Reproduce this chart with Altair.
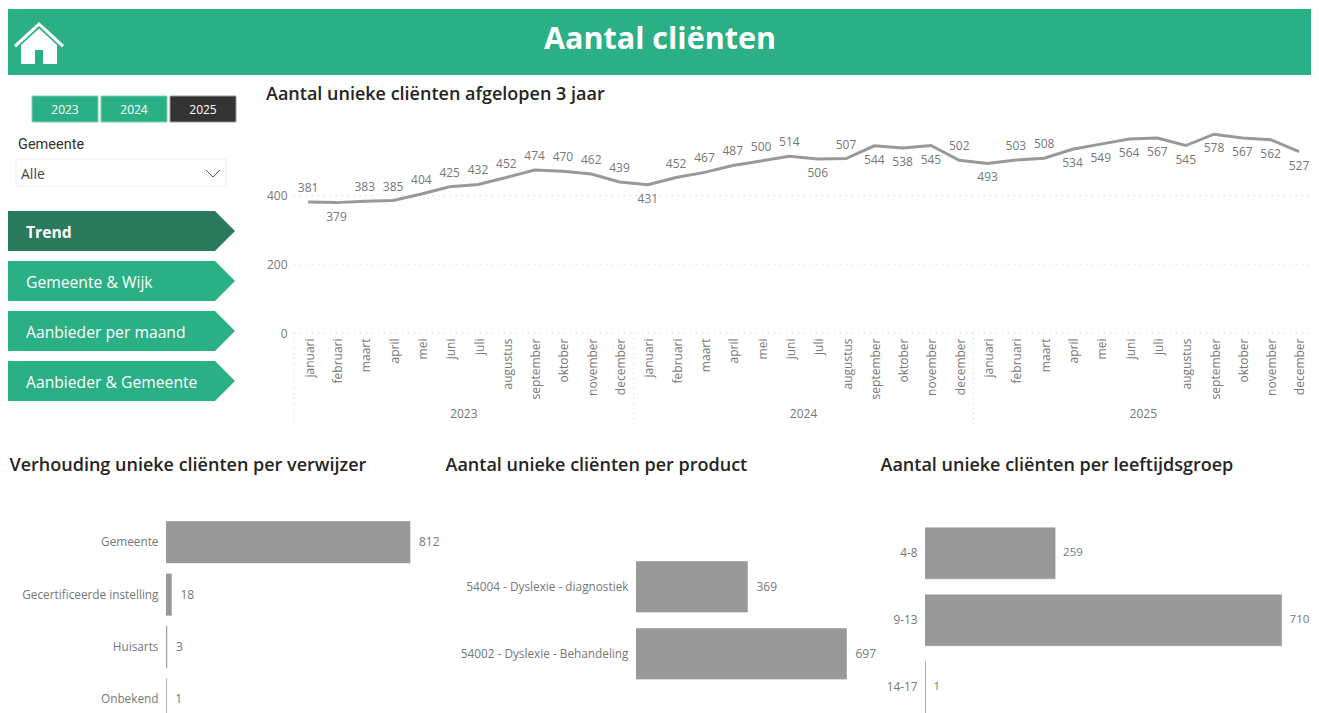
import altair as alt
import pandas as pd

FONT = "Open Sans"
GREEN = "#2bb085"
DARK_GREEN = "#2a7a5e"
GREY = "#999999"
LABEL = "#777777"

maanden = ["januari", "februari", "maart", "april", "mei", "juni", "juli", "augustus",
           "september", "oktober", "november", "december"]
jaren = ["2023", "2024", "2025"]
clienten = [381, 379, 383, 385, 404, 425, 432, 452, 474, 470, 462, 439,
            431, 452, 467, 487, 500, 514, 506, 507, 544, 538, 545, 502,
            493, 503, 508, 534, 549, 564, 567, 545, 578, 567, 562, 527]
label_plek = ["a", "b", "a", "a", "a", "a", "a", "a", "a", "a", "a", "a",
              "b", "a", "a", "a", "a", "a", "b", "a", "b", "b", "b", "a",
              "b", "a", "a", "b", "b", "b", "b", "b", "b", "b", "b", "b"]

verwijzers = ["Gemeente", "Gecertificeerde instelling", "Huisarts", "Onbekend"]
verwijzer_waarden = [812, 18, 3, 1]
producten = ["54004 - Dyslexie - diagnostiek", "54002 - Dyslexie - Behandeling"]
product_waarden = [369, 697]
leeftijden = ["4-8", "9-13", "14-17"]
leeftijd_waarden = [259, 710, 1]

nav_labels = ["Trend", "Gemeente & Wijk", "Aanbieder per maand", "Aanbieder & Gemeente"]

one = alt.Data(values=[{"a": 1}])


def label(text, x, y, size=12, color=LABEL, weight="normal", align="left", font=FONT):
    return alt.Chart(one).mark_text(text=text, fontSize=size, color=color, fontWeight=weight,
                                    align=align, baseline="middle", font=font).encode(
        x=alt.value(x), y=alt.value(y))


def box(x, x2, y, y2, fill, stroke=None):
    kw = {"stroke": stroke, "strokeWidth": 1} if stroke else {}
    return alt.Chart(one).mark_rect(color=fill, **kw).encode(
        x=alt.value(x), x2=alt.value(x2), y=alt.value(y), y2=alt.value(y2))


def shape(path, fill):
    return alt.Chart(one).mark_point(shape=path, size=4, filled=True, color=fill, opacity=1).encode(
        x=alt.value(0), y=alt.value(0))


# ---- header
header = alt.layer(
    box(0, 1303, 1, 67, GREEN),
    shape("M13,56 L13,37 L31,20.5 L49,37 L49,56 L35,56 L35,42 L27,42 L27,56 Z", "#ffffff"),
    shape("M6,37 L31,14 L56,37 L54,39.5 L31,18 L8,39.5 Z", "#ffffff"),
    label("Aantal cliënten", 652, 32, size=30.5, color="#ffffff", weight="bold", align="center"),
).properties(width=1302, height=68)

# ---- sidebar
side_layers = []
for jaar, x0, fill, edge in zip(jaren, [24, 93, 162], [GREEN, GREEN, "#333333"],
                                ["#7fd0b5", "#7fd0b5", "#999999"]):
    side_layers.append(box(x0, x0 + 66, 20, 46, fill, edge))
    side_layers.append(label(jaar, x0 + 33, 34, size=12, color="#ffffff", align="center"))
side_layers.append(label("Gemeente", 10, 69, size=14.5, color="#333333", font="Roboto"))
side_layers.append(box(8, 218, 83, 110, "#ffffff", "#eeeeee"))
side_layers.append(label("Alle", 13, 98.5, size=14, color="#444444"))
side_layers.append(alt.Chart(one).mark_point(shape="M198,94 L205,101 L212,94", size=4, filled=False,
                                             color="#555555", opacity=1, strokeWidth=1).encode(
    x=alt.value(0), y=alt.value(0)))
for i, nav in enumerate(nav_labels):
    top = 135 + i * 50
    side_layers.append(shape(f"M0,{top} L207,{top} L227,{top + 20} L207,{top + 40} L0,{top + 40} Z",
                             DARK_GREEN if i == 0 else GREEN))
    side_layers.append(label(nav, 18, top + 22, size=15.7, color="#ffffff",
                             weight="bold" if i == 0 else "normal"))
sidebar = alt.layer(*side_layers).properties(width=286, height=359)

# ---- trend line
n_maanden = len(jaren) * len(maanden)
idx = list(range(n_maanden))
trend = pd.DataFrame({"idx": idx, "waarde": clienten, "plek": label_plek})
x_scale = alt.Scale(domain=[-0.5, 35.39], nice=False, zero=False)
y_scale = alt.Scale(domain=[0, 600], range=[257, 50.6])

maand_expr = "[" + ",".join(f"'{m}'" for m in maanden) + "][datum.value % 12]"
x_axis = alt.Axis(title=None, values=idx, labelExpr=maand_expr, labelAngle=270, labelAlign="right",
                  labelBaseline="middle", labelPadding=5, labelFontSize=12, labelColor=LABEL,
                  labelFont=FONT, labelOffset=1, domain=False, ticks=False, grid=False, labelOverlap=False)
y_axis = alt.Axis(title=None, values=[0, 200, 400], labelPadding=7, labelFontSize=12, labelColor=LABEL,
                  labelFont=FONT, domain=False, ticks=False, grid=False)

base = alt.Chart(trend)
grid_rows = alt.Chart(pd.DataFrame({"v": [0, 200, 400]})).mark_rule(
    color="#cfcfcf", strokeDash=[1, 5], strokeWidth=1).encode(
    y=alt.Y("v:Q", scale=y_scale, axis=y_axis), x=alt.value(0), x2=alt.value(1016))
line = base.mark_line(color=GREY, strokeWidth=3).encode(
    x=alt.X("idx:Q", scale=x_scale, axis=x_axis),
    y=alt.Y("waarde:Q", scale=y_scale, axis=y_axis))


def value_labels(plek, dy):
    return base.transform_filter(f"datum.plek == '{plek}'").mark_text(
        dy=dy, fontSize=12, color=LABEL, font=FONT).encode(
        x=alt.X("idx:Q", scale=x_scale, axis=x_axis),
        y=alt.Y("waarde:Q", scale=y_scale, axis=y_axis),
        text=alt.Text("waarde:Q"))


jaar_df = pd.DataFrame({"jaar": jaren, "start": [-0.5, 11.5, 23.5], "mid": [5.5, 17.5, 29.5]})
jaar_sep = alt.Chart(jaar_df).mark_rule(color="#cfcfcf", strokeDash=[1, 4], strokeWidth=1).encode(
    x=alt.X("start:Q", scale=x_scale, axis=x_axis),
    y=alt.value(257), y2=alt.value(348))
jaar_text = alt.Chart(jaar_df).mark_text(fontSize=12, color=LABEL, font=FONT).encode(
    x=alt.X("mid:Q", scale=x_scale, axis=x_axis),
    y=alt.value(338), text="jaar:N")

trend_chart = alt.layer(
    grid_rows, jaar_sep, line, value_labels("a", -14), value_labels("b", 14), jaar_text,
    label("Aantal unieke cliënten afgelopen 3 jaar", -28, 19, size=18, color="#252423", weight=600),
).properties(width=1016, height=257)


# ---- bars
def bar_panel(cats, vals, xrange, yrange, inner, title, title_x, width, dx=9, size=12):
    df = pd.DataFrame({"cat": cats, "val": vals})
    xs = alt.Scale(domain=[0, max(vals)], range=[0, xrange])
    ys = alt.Scale(domain=cats, range=yrange, paddingInner=inner, paddingOuter=inner / 2)
    y_ax = alt.Axis(title=None, domain=False, ticks=False, labelPadding=8, labelFontSize=11.8,
                    labelColor=LABEL, labelFont=FONT, grid=False)
    bars = alt.Chart(df).mark_bar(color=GREY, clip=True, stroke=GREY, strokeWidth=0.6).encode(
        x=alt.X("val:Q", scale=xs, axis=None),
        y=alt.Y("cat:N", scale=ys, sort=None, axis=y_ax))
    txt = alt.Chart(df).mark_text(align="left", dx=dx, fontSize=size, color=LABEL, font=FONT).encode(
        x=alt.X("val:Q", scale=xs, axis=None),
        y=alt.Y("cat:N", scale=ys, sort=None, axis=y_ax),
        text=alt.Text("val:Q"))
    head = label(title, title_x, 25, size=18, color="#252423", weight=600)
    return alt.layer(bars, txt, head).properties(width=width, height=273)


spacer = alt.Chart(one).mark_text(text=" ").encode(x=alt.value(0), y=alt.value(0)).properties(width=158, height=10)
b1 = bar_panel(verwijzers, verwijzer_waarden, 244, [75, 284.6], 0.21,
               "Verhouding unieke cliënten per verwijzer", -156.5, 470)
b2 = bar_panel(producten, product_waarden, 210.5, [112.3, 246.3], 0.245,
               "Aantal unieke cliënten per product", -190.5, 289)
b3 = bar_panel(leeftijden, leeftijd_waarden, 356.6, [78.8, 279.8], 0.24,
               "Aantal unieke cliënten per leeftijdsgroep", -44.5, 384, dx=8, size=11.5)

row2 = alt.hconcat(sidebar, trend_chart, spacing=0, bounds="flush")
row3 = alt.hconcat(spacer, b1, b2, b3, spacing=0, bounds="flush")

chart = alt.vconcat(header, row2, row3, spacing=0).properties(
    padding=0, background="white"
).configure_view(strokeWidth=0).resolve_scale(color="independent")

chart.save("out.html", embed_options={"renderer": "svg", "actions": False})
